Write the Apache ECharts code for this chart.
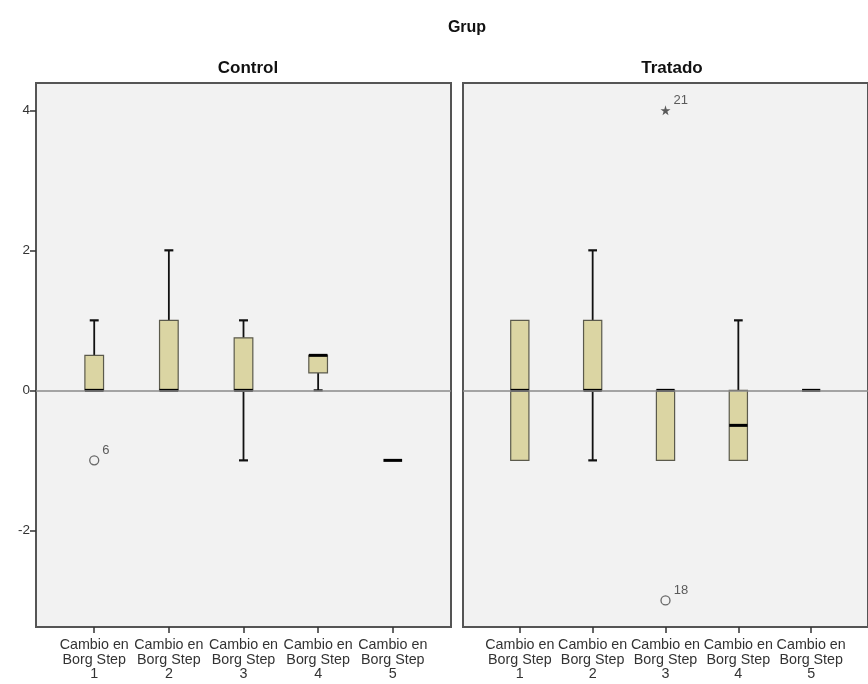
<!DOCTYPE html>
<html>
<head>
<meta charset="utf-8">
<script src="https://cdn.jsdelivr.net/npm/echarts@6/dist/echarts.min.js"></script>
<style>
html,body{margin:0;padding:0;background:#fff;}
#chart{width:868px;height:684px;}
</style>
</head>
<body>
<div id="chart"></div>
<script>
// ---- data ----
const steps = [1, 2, 3, 4, 5];
const categories = ['Cambio en\nBorg Step\n1', 'Cambio en\nBorg Step\n2', 'Cambio en\nBorg Step\n3', 'Cambio en\nBorg Step\n4', 'Cambio en\nBorg Step\n5'];
const yTicks = [-2, 0, 2, 4];
const groupNames = ['Control', 'Tratado'];

const controlMin    = [0,   0, -1,   0,    -1];
const controlQ1     = [0,   0,  0,   0.25, -1];
const controlMedian = [0,   0,  0,   0.5,  -1];
const controlQ3     = [0.5, 1,  0.75, 0.5, -1];
const controlMax    = [1,   2,  1,   0.5,  -1];

const tratadoMin    = [-1, -1, -1, -1,   0];
const tratadoQ1     = [-1,  0, -1, -1,   0];
const tratadoMedian = [ 0,  0,  0, -0.5, 0];
const tratadoQ3     = [ 1,  1,  0,  0,   0];
const tratadoMax    = [ 1,  2,  0,  1,   0];

const controlOutlierX = [1];
const controlOutlierY = [-1];
const controlOutlierId = ['6'];
const controlOutlierKind = ['outlier'];

const tratadoOutlierX = [3, 3];
const tratadoOutlierY = [4, -3];
const tratadoOutlierId = ['21', '18'];
const tratadoOutlierKind = ['extreme', 'outlier'];

// ---- styles ----
const FONT = 'Liberation Sans, Arial, sans-serif';
const BOX_W = 0.25;
const CAP_W = 0.12;
const STAR = 'path://M50,0 L61,35 L98,35 L68,57 L79,91 L50,70 L21,91 L32,57 L2,35 L39,35 Z';

function boxData(mins, q1s, meds, q3s, maxs) {
  return steps.map((s, i) => [s, mins[i], q1s[i], meds[i], q3s[i], maxs[i]]);
}
function outlierData(xs, ys, ids, kinds) {
  return xs.map((x, i) => ({
    value: [x, ys[i]],
    name: ids[i],
    symbol: kinds[i] === 'extreme' ? STAR : 'circle',
    symbolSize: kinds[i] === 'extreme' ? 10 : 9,
    itemStyle: kinds[i] === 'extreme'
      ? { color: '#333', borderWidth: 0 }
      : { color: 'rgba(0,0,0,0)', borderColor: '#444', borderWidth: 1.3 }
  }));
}

function renderBox(params, api) {
  const x = api.value(0);
  const vmin = api.value(1), q1 = api.value(2), med = api.value(3), q3 = api.value(4), vmax = api.value(5);
  const bw = api.size([BOX_W, 0])[0];
  const cw = api.size([CAP_W, 0])[0];
  const pMin = api.coord([x, vmin]);
  const pQ1 = api.coord([x, q1]);
  const pMed = api.coord([x, med]);
  const pQ3 = api.coord([x, q3]);
  const pMax = api.coord([x, vmax]);
  const cx = pMed[0];
  const children = [];
  const wStyle = { stroke: '#111', lineWidth: 1.8 };
  if (vmax > q3) {
    children.push({ type: 'line', shape: { x1: cx, y1: pQ3[1], x2: cx, y2: pMax[1] }, style: wStyle });
    children.push({ type: 'line', shape: { x1: cx - cw / 2, y1: pMax[1], x2: cx + cw / 2, y2: pMax[1] }, style: { stroke: '#111', lineWidth: 2.2 } });
  }
  if (vmin < q1) {
    children.push({ type: 'line', shape: { x1: cx, y1: pQ1[1], x2: cx, y2: pMin[1] }, style: wStyle });
    children.push({ type: 'line', shape: { x1: cx - cw / 2, y1: pMin[1], x2: cx + cw / 2, y2: pMin[1] }, style: { stroke: '#111', lineWidth: 2.2 } });
  }
  if (q3 > q1) {
    children.push({
      type: 'rect',
      shape: { x: cx - bw / 2, y: pQ3[1], width: bw, height: pQ1[1] - pQ3[1] },
      style: { fill: '#dbd5a3', stroke: '#5b5a4c', lineWidth: 1.2 }
    });
  }
  children.push({
    type: 'line',
    shape: { x1: cx - bw / 2, y1: pMed[1], x2: cx + bw / 2, y2: pMed[1] },
    style: { stroke: '#000', lineWidth: 3 }
  });
  return { type: 'group', children: children };
}

const grids = [
  { left: 36, top: 83, width: 415, height: 544 },
  { left: 463, top: 83, width: 416, height: 544 }
];

function xAxisFor(i) {
  return {
    type: 'value', gridIndex: i, min: 0.22, max: 5.78, position: 'bottom',
    splitLine: { show: false },
    axisLine: { show: false, onZero: false },
    axisTick: { show: true, customValues: steps, length: 6, lineStyle: { color: '#333', width: 1.5 } },
    axisLabel: {
      customValues: steps, margin: 11,
      formatter: v => categories[steps.indexOf(v)] || '',
      fontFamily: FONT, fontSize: 14.3, lineHeight: 14.5, color: '#333'
    }
  };
}
function yAxisFor(i) {
  return {
    type: 'value', gridIndex: i, min: -3.38, max: 4.39,
    splitLine: { show: false },
    axisLine: { show: false, onZero: false },
    axisTick: { show: i === 0, customValues: yTicks, length: 6, lineStyle: { color: '#333', width: 1.5 } },
    axisLabel: { show: i === 0, customValues: yTicks, margin: 6, fontFamily: FONT, fontSize: 13.5, color: '#333' }
  };
}

const boxSets = [
  boxData(controlMin, controlQ1, controlMedian, controlQ3, controlMax),
  boxData(tratadoMin, tratadoQ1, tratadoMedian, tratadoQ3, tratadoMax)
];
const outSets = [
  outlierData(controlOutlierX, controlOutlierY, controlOutlierId, controlOutlierKind),
  outlierData(tratadoOutlierX, tratadoOutlierY, tratadoOutlierId, tratadoOutlierKind)
];

const series = [];
[0, 1].forEach(i => {
  series.push({
    type: 'scatter', xAxisIndex: i, yAxisIndex: i, z: 2,
    data: outSets[i],
    label: {
      show: true, position: 'right', distance: 2, offset: [1, -10],
      formatter: p => p.name, fontFamily: FONT, fontSize: 13, color: '#333'
    },
    markLine: {
      silent: true, symbol: 'none', animation: false,
      label: { show: false },
      lineStyle: { color: '#8a8a8a', width: 1.6, type: 'solid' },
      data: [{ yAxis: 0 }]
    }
  });
  series.push({
    type: 'custom', xAxisIndex: i, yAxisIndex: i, z: 3,
    renderItem: renderBox,
    encode: { x: 0, y: [1, 2, 3, 4, 5] },
    data: boxSets[i]
  });
});

const chart = echarts.init(document.getElementById('chart'), null, { renderer: 'canvas' });
chart.setOption({
  animation: false,
  backgroundColor: '#ffffff',
  title: [
    { text: 'Grup', left: 462, top: 15, textAlign: 'center', textStyle: { fontFamily: FONT, fontSize: 16, fontWeight: 'bold', color: '#111' } },
    { text: groupNames[0], left: 243, top: 55, textAlign: 'center', textStyle: { fontFamily: FONT, fontSize: 17, fontWeight: 'bold', color: '#111' } },
    { text: groupNames[1], left: 667, top: 55, textAlign: 'center', textStyle: { fontFamily: FONT, fontSize: 17, fontWeight: 'bold', color: '#111' } }
  ],
  grid: grids.map(g => Object.assign({ show: true, backgroundColor: '#f2f2f2', borderColor: '#555555', borderWidth: 2 }, g)),
  xAxis: [xAxisFor(0), xAxisFor(1)],
  yAxis: [yAxisFor(0), yAxisFor(1)],
  series: series
});
</script>
</body>
</html>
